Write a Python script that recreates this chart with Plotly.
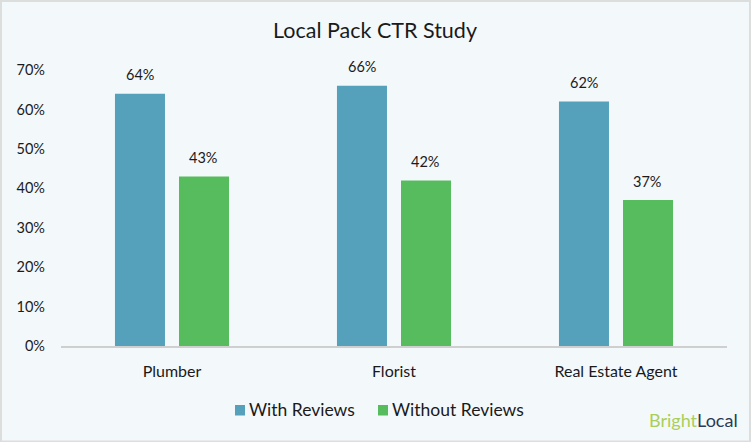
import plotly.graph_objects as go

# values
categories = ['Plumber', 'Florist', 'Real Estate Agent']
with_reviews = [64, 66, 62]
without_reviews = [43, 42, 37]
series_names = ['With Reviews', 'Without Reviews']
y_ticks = [0, 10, 20, 30, 40, 50, 60, 70]

BG = '#f3f8fb'
BLUE = '#55a1bc'
GREEN = '#57bc5e'
TEXT = '#1a1a1a'
FONT = 'Lato, sans-serif'

# plot area in page pixels, used to place things outside of it
L, R, T, B = 61, 727, 70, 346


def px(x):
    return (x - L) / (R - L)


def py(y):
    return (B - y) / (B - T)


fig = go.Figure()
fig.add_trace(go.Bar(name=series_names[0], x=categories, y=with_reviews, marker=dict(color=BLUE, line_width=0)))
fig.add_trace(go.Bar(name=series_names[1], x=categories, y=without_reviews, marker=dict(color=GREEN, line_width=0)))

# value labels sit well above the bars, so annotations instead of textposition
for cat, a, b in zip(categories, with_reviews, without_reviews):
    for val, shift in ((a, -32), (b, 31)):
        fig.add_annotation(x=cat, y=val, text=f'{val}%', showarrow=False, xshift=shift, yshift=19,
                           font=dict(size=14.5, color=TEXT, family=FONT))

# legend by hand: plotly's own swatches are bigger and sit further from the text
for name, color, left in zip(series_names, (BLUE, GREEN), (235, 378)):
    fig.add_shape(type='rect', xref='paper', yref='paper', x0=px(left), x1=px(left + 10), y0=py(415.5), y1=py(405),
                  fillcolor=color, line_width=0)
    fig.add_annotation(xref='paper', yref='paper', x=px(left + 12), y=py(409.5), xanchor='left', yanchor='middle',
                       showarrow=False, text=name, font=dict(size=17.5, color=TEXT, family=FONT))

# logo
fig.add_annotation(xref='paper', yref='paper', x=px(740), y=py(420), xanchor='right', yanchor='middle',
                   showarrow=False, text='<span style="color:#a9cf5a">Bright</span><span style="color:#2b3a55">Local</span>',
                   font=dict(size=18, family=FONT))

# thin grey frame round the image
fig.add_shape(type='rect', xref='paper', yref='paper', x0=px(1), x1=px(750), y0=py(441.5), y1=py(1),
              line=dict(color='#dcdddd', width=2), fillcolor='rgba(0,0,0,0)', layer='below')

fig.update_layout(
    width=751, height=442, autosize=False,
    margin=dict(l=L, r=751 - R, t=T, b=442 - B),
    paper_bgcolor=BG, plot_bgcolor=BG,
    title=dict(text='Local Pack CTR Study', x=375 / 751, xanchor='center', y=0.931, yanchor='middle',
               font=dict(size=21.5, color=TEXT, family=FONT)),
    font=dict(family=FONT, color=TEXT, size=14.5),
    barmode='group', bargap=0.423, bargroupgap=0.219,
    showlegend=False,
    xaxis=dict(showgrid=False, showline=True, linecolor='#cfcfcf', linewidth=1.5, ticks='', ticklabelstandoff=10,
               tickfont=dict(size=16, color=TEXT, family=FONT)),
    yaxis=dict(range=[0, 70], tickvals=y_ticks, ticktext=[f'{t}%' for t in y_ticks], showgrid=False, zeroline=False,
               showline=False, ticks='', tickfont=dict(size=14.5, color=TEXT, family=FONT), ticklabelstandoff=15),
)
# the page's default body margin would push the figure 8px in
fig.write_html("out.html", config=dict(displayModeBar=False), post_script="document.body.style.margin='0';")
